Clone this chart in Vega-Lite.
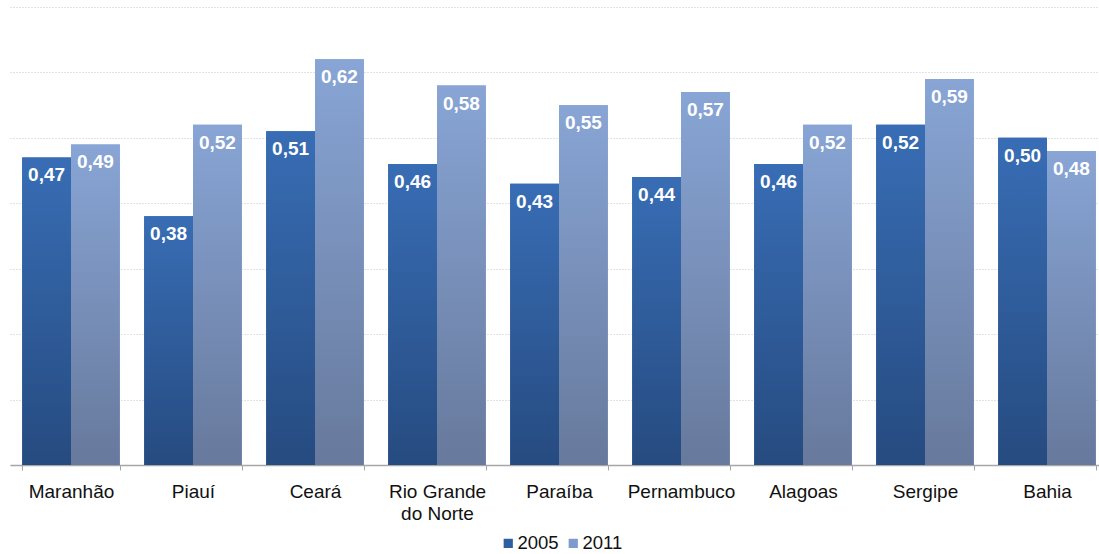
{
  "$schema": "https://vega.github.io/schema/vega-lite/v6.json",
  "width": 1089,
  "height": 458,
  "autosize": {"type": "none"},
  "padding": {"left": 10, "top": 7, "right": 0, "bottom": 89},
  "background": "white",
  "config": {
    "view": {"stroke": null},
    "font": "Liberation Sans",
    "locale": {"number": {"decimal": ",", "thousands": ".", "grouping": [3], "currency": ["R$", ""]}}
  },
  "data": {
    "values": [
      {"estado": "Maranhão", "ano": "2005", "valor": 0.47},
      {"estado": "Maranhão", "ano": "2011", "valor": 0.49},
      {"estado": "Piauí", "ano": "2005", "valor": 0.38},
      {"estado": "Piauí", "ano": "2011", "valor": 0.52},
      {"estado": "Ceará", "ano": "2005", "valor": 0.51},
      {"estado": "Ceará", "ano": "2011", "valor": 0.62},
      {"estado": "Rio Grande do Norte", "ano": "2005", "valor": 0.46},
      {"estado": "Rio Grande do Norte", "ano": "2011", "valor": 0.58},
      {"estado": "Paraíba", "ano": "2005", "valor": 0.43},
      {"estado": "Paraíba", "ano": "2011", "valor": 0.55},
      {"estado": "Pernambuco", "ano": "2005", "valor": 0.44},
      {"estado": "Pernambuco", "ano": "2011", "valor": 0.57},
      {"estado": "Alagoas", "ano": "2005", "valor": 0.46},
      {"estado": "Alagoas", "ano": "2011", "valor": 0.52},
      {"estado": "Sergipe", "ano": "2005", "valor": 0.52},
      {"estado": "Sergipe", "ano": "2011", "valor": 0.59},
      {"estado": "Bahia", "ano": "2005", "valor": 0.50},
      {"estado": "Bahia", "ano": "2011", "valor": 0.48}
    ]
  },
  "encoding": {
    "x": {
      "field": "estado",
      "type": "nominal",
      "sort": null,
      "title": null,
      "scale": {"paddingInner": 0.2, "paddingOuter": 0.1, "range": [0, 1098]},
      "axis": {
        "labelAngle": 0,
        "labelFontSize": 19,
        "labelColor": "#111111",
        "labelPadding": 12,
        "labelLineHeight": 22,
        "labelBaseline": "top",
        "labelExpr": "datum.label == 'Rio Grande do Norte' ? ['Rio Grande', 'do Norte'] : datum.label",
        "domainColor": "#a6a6a6",
        "domainWidth": 1.5,
        "tickColor": "#a6a6a6",
        "tickSize": 5,
        "tickBand": "extent",
        "grid": false
      }
    },
    "xOffset": {"field": "ano", "type": "nominal"},
    "y": {
      "field": "valor",
      "type": "quantitative",
      "title": null,
      "scale": {"domain": [0, 0.7], "nice": false},
      "axis": {
        "labels": false,
        "ticks": false,
        "domain": false,
        "tickCount": 7,
        "grid": true,
        "gridColor": "#c4c4c4",
        "gridDash": [1, 2],
        "gridWidth": 1
      }
    }
  },
  "layer": [
    {
      "mark": {"type": "bar"},
      "encoding": {
        "color": {
          "field": "ano",
          "type": "nominal",
          "title": null,
          "scale": {"domain": ["2005", "2011"], "range": ["#2f5f9f", "#7f9bcb"]},
          "legend": {
            "orient": "none",
            "direction": "horizontal",
            "legendX": 489,
            "legendY": 527,
            "symbolType": "square",
            "symbolSize": 85,
            "symbolStrokeWidth": 0,
            "labelFontSize": 18.5,
            "labelColor": "#111111",
            "labelOffset": 0,
            "columnPadding": 5
          }
        }
      }
    },
    {
      "transform": [{"filter": "datum.ano === '2005'"}],
      "mark": {
        "type": "bar",
        "color": {
          "gradient": "linear",
          "x1": 0, "y1": 0, "x2": 0, "y2": 1,
          "stops": [
            {"offset": 0, "color": "#386db5"},
            {"offset": 1, "color": "#264b80"}
          ]
        }
      }
    },
    {
      "transform": [{"filter": "datum.ano === '2011'"}],
      "mark": {
        "type": "bar",
        "color": {
          "gradient": "linear",
          "x1": 0, "y1": 0, "x2": 0, "y2": 1,
          "stops": [
            {"offset": 0, "color": "#88a5d5"},
            {"offset": 1, "color": "#67799c"}
          ]
        }
      }
    },
    {
      "mark": {
        "type": "text",
        "baseline": "middle",
        "align": "center",
        "dy": 18,
        "fontSize": 19,
        "fontWeight": "bold",
        "color": "white"
      },
      "encoding": {
        "text": {"field": "valor", "type": "quantitative", "format": ".2f"}
      }
    }
  ]
}
